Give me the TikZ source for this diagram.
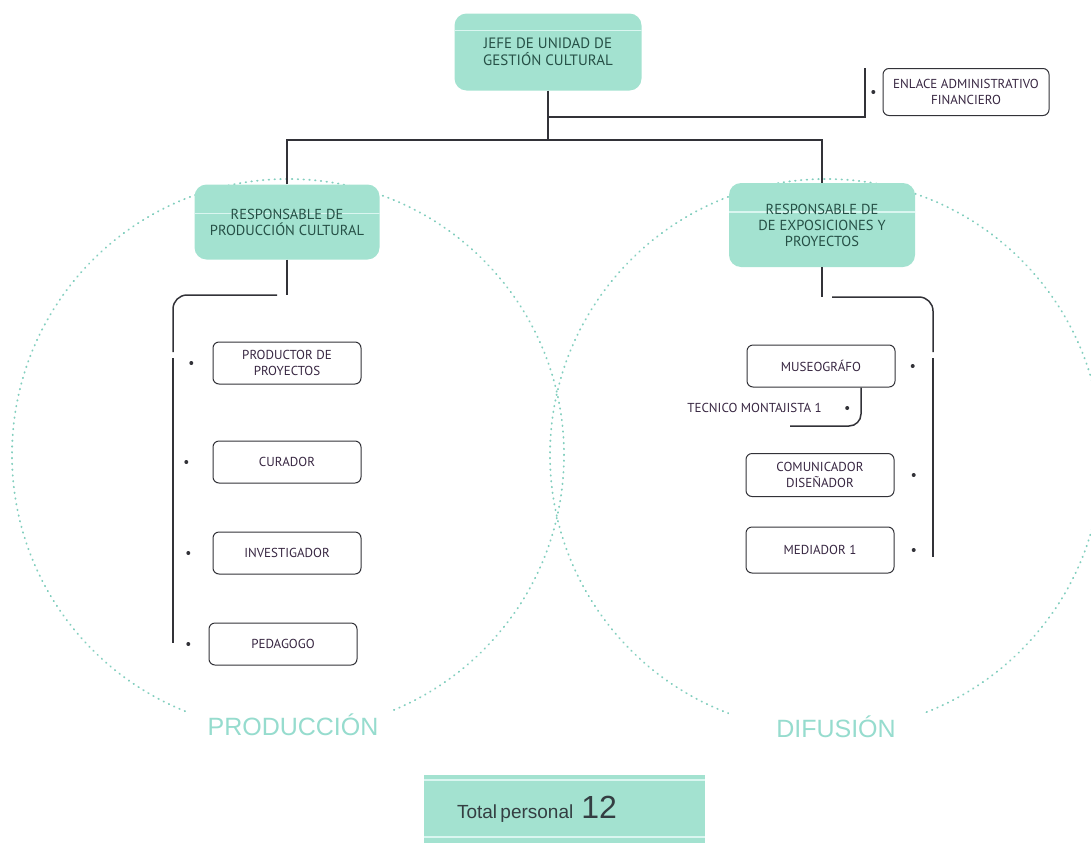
\documentclass[tikz,border=0pt]{standalone}
\usepackage{fontspec}
\usepackage{tikz}
\usetikzlibrary{positioning, calc}
\newfontfamily\boxfont{PT Sans}
\newfontfamily\labelfont{Liberation Sans}
\definecolor{mint}{RGB}{163,226,208}
\definecolor{minttext}{RGB}{38,80,70}
\definecolor{stripecol}{RGB}{218,246,240}
\definecolor{zonecol}{RGB}{130,206,190}
\definecolor{labelcol}{RGB}{150,220,206}
\definecolor{linecol}{RGB}{50,50,56}
\definecolor{itemtext}{RGB}{55,38,65}
\definecolor{totaltext}{RGB}{52,62,66}

\begin{document}
\begin{tikzpicture}[x=1pt, y=-1pt,
        stripe/.style={path picture={\draw[stripecol, line width=1.6pt]
            ([yshift=-#1pt]path picture bounding box.north west) -- ([yshift=-#1pt]path picture bounding box.north east);}},
        head/.style={fill=mint, rounded corners=12pt, align=center, text=minttext,
            font=\boxfont\fontsize{14.5}{16}\selectfont, stripe=#1},
        head/.default=29,
        item/.style={draw=linecol, line width=1pt, rounded corners=6pt, minimum width=148, minimum height=42,
            align=center, text=itemtext, font=\boxfont\fontsize{13}{15.5}\selectfont},
        dot/.style={circle, fill=linecol, inner sep=0pt, minimum size=4},
        wire/.style={draw=linecol, line width=1.5},
        zone/.style={draw=zonecol, line width=1.8, line cap=round, dash pattern=on 0.6pt off 5.2pt},
        zonelabel/.style={fill=white, minimum width=215, text=labelcol, font=\labelfont\fontsize{25}{25}\selectfont}]
    \useasboundingbox (0,0) rectangle (1091,846);

    \draw[zone] (288,455) circle (276pt);
    \draw[zone] (826,455) circle (276pt);
    \node[zonelabel] (produccion) at (293,725) {PRODUCCIÓN};
    \node[zonelabel] (difusion) at (836,727) {DIFUSIÓN};

    \node[head=17, minimum width=187, minimum height=77, font=\boxfont\fontsize{15}{17.5}\selectfont] (jefe) at (548,52) {JEFE DE UNIDAD DE\\GESTIÓN CULTURAL};
    \node[item, minimum width=166, minimum height=47, font=\boxfont\fontsize{13}{15.5}\selectfont] (enlace) at (966,92) {ENLACE ADMINISTRATIVO\\FINANCIERO};
    \node[dot, left=7pt of enlace] (enlacedot) {};
    \node[head, minimum width=185, minimum height=75] (prod) at (287,222) {RESPONSABLE DE\\PRODUCCIÓN CULTURAL};
    \node[head, minimum width=186, minimum height=84] (expo) at (822,225) {RESPONSABLE DE\\DE EXPOSICIONES Y\\PROYECTOS};

    \node[item] (productor) at (287,363) {PRODUCTOR DE\\PROYECTOS};
    \node[item] (curador) at (287,462) {CURADOR};
    \node[item] (investigador) at (287,553) {INVESTIGADOR};
    \node[item] (pedagogo) at (283,644) {PEDAGOGO};
    \node[dot, left=19pt of productor] (d1) {};
    \node[dot, left=24pt of curador] (d2) {};
    \node[dot, left=22pt of investigador] (d3) {};
    \node[dot, left=18pt of pedagogo] (d4) {};

    \node[item] (museografo) at (821,366) {MUSEOGRÁFO};
    \node[item, minimum height=43] (comunicador) at (820,475) {COMUNICADOR\\DISEÑADOR};
    \node[item, minimum height=46] (mediador) at (820,550) {MEDIADOR 1};
    \node[dot, right=15pt of museografo] (d5) {};
    \node[dot, right=17pt of comunicador] (d6) {};
    \node[dot, right=17pt of mediador] (d7) {};
    \node[anchor=east, inner sep=0pt, text=itemtext, font=\boxfont\fontsize{13}{15}\selectfont] (tecnico) at (822,408) {TECNICO MONTAJISTA 1};
    \node[dot, right=23pt of tecnico] (d8) {};

    \coordinate (j1) at (548,117);
    \coordinate (j2) at (548,140);
    \coordinate (e1) at (865,68);
    \draw[wire] (jefe.south) -- (j2);
    \draw[wire] (j1) -| (e1);
    \draw[wire] (prod.north) |- (j2) -| (expo.north);

    \coordinate (l1) at (287,295);
    \coordinate (l2) at (277,295);
    \coordinate (l3) at (173,295);
    \coordinate (l4) at (173,352);
    \coordinate (l5) at (173,358);
    \coordinate (l6) at (173,643);
    \draw[wire] (prod.south) -- (l1);
    \draw[wire, rounded corners=14] (l2) -- (l3) -- (l4);
    \draw[wire] (l5) -- (l6);

    \coordinate (r1) at (822,297);
    \coordinate (r2) at (832,297);
    \coordinate (r3) at (933,297);
    \coordinate (r4) at (933,352);
    \coordinate (r5) at (933,358);
    \coordinate (r6) at (933,557);
    \draw[wire] (expo.south) -- (r1);
    \draw[wire, rounded corners=14] (r2) -- (r3) -- (r4);
    \draw[wire] (r5) -- (r6);

    \coordinate (t1) at (861,426);
    \coordinate (t2) at (790,426);
    \draw[wire, rounded corners=12] (museografo.south -| t1) -- (t1) -- (t2);

    \node[fill=mint, minimum width=281, minimum height=68, text width=215, inner xsep=33, align=left,
        text=totaltext, font=\labelfont,
        path picture={\draw[stripecol, line width=1.6pt]
            ([yshift=-5pt]path picture bounding box.north west) -- ([yshift=-5pt]path picture bounding box.north east)
            ([yshift=6pt]path picture bounding box.south west) -- ([yshift=6pt]path picture bounding box.south east);}]
        (total) at (564.5,809) {{\fontsize{19}{20}\selectfont Total personal}\hspace{8pt}{\fontsize{32}{32}\selectfont 12}};
\end{tikzpicture}
\end{document}
